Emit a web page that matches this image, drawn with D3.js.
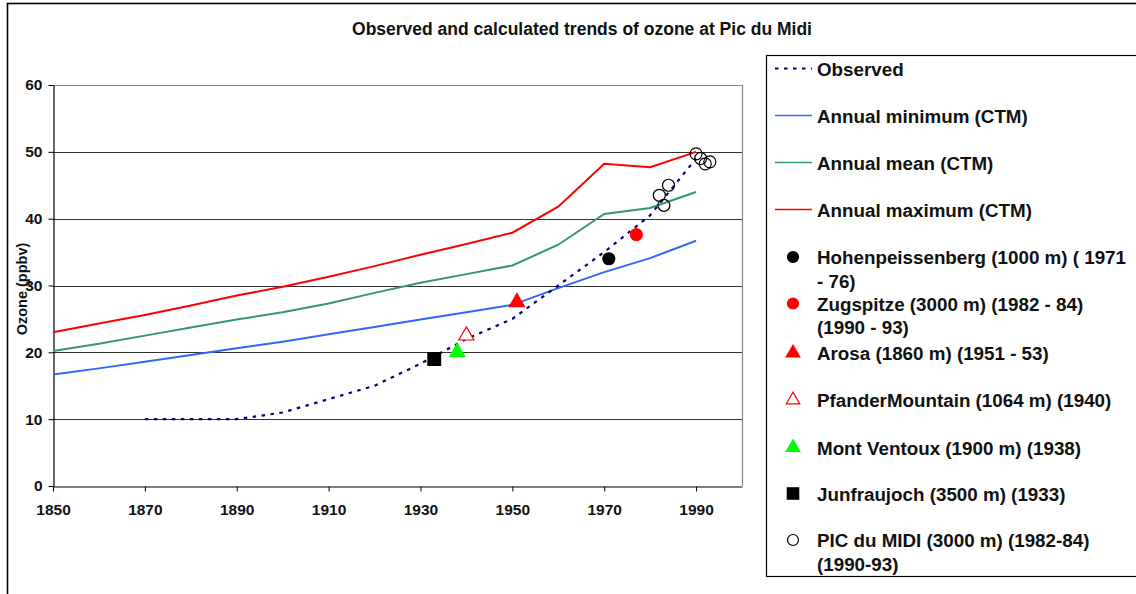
<!DOCTYPE html>
<html>
<head>
<meta charset="utf-8">
<script src="https://cdn.jsdelivr.net/npm/d3@7"></script>
<style>
  html, body { margin: 0; padding: 0; background: #fff; }
  svg { display: block; font-family: "Liberation Sans", Arial, sans-serif; font-weight: bold; }
</style>
</head>
<body>
<svg id="chart" width="1136" height="594"></svg>
<script>
// Model (CTM) curves, one value per decade
const modelYears = [1850, 1860, 1870, 1880, 1890, 1900, 1910, 1920, 1930, 1940, 1950, 1960, 1970, 1980, 1990];
const annualMin  = [16.7, 17.6, 18.6, 19.6, 20.6, 21.6, 22.7, 23.8, 24.9, 26.0, 27.1, 29.6, 32.0, 34.1, 36.7];
const annualMean = [20.2, 21.3, 22.5, 23.7, 24.9, 26.0, 27.3, 28.9, 30.4, 31.7, 33.0, 36.1, 40.7, 41.6, 44.0];
const annualMax  = [23.0, 24.3, 25.6, 27.0, 28.5, 29.8, 31.3, 32.9, 34.6, 36.2, 37.9, 41.8, 48.2, 47.7, 50.0];

// Observed trend
const observedYears = [1870, 1880, 1890, 1900, 1910, 1920, 1930, 1940, 1950, 1960, 1970, 1980, 1990];
const observed      = [10, 10, 10, 11, 13, 15, 18.3, 22, 25, 30, 35, 40.5, 49];

// Station measurements
const hohenYears = [1971];  const hohenValues = [34];
const zugYears   = [1977];  const zugValues   = [37.6];
const arosaYears = [1951];  const arosaValues = [27.5];
const pfanderYears = [1940]; const pfanderValues = [22.5];
const ventouxYears = [1938]; const ventouxValues = [20];
const jungYears  = [1933];  const jungValues  = [19];
const picYears   = [1982, 1983, 1984, 1990, 1991, 1992, 1993];
const picValues  = [43.5, 42, 45, 49.7, 49, 48.2, 48.5];

const xTicks = [1850, 1870, 1890, 1910, 1930, 1950, 1970, 1990];
const yTicks = [0, 10, 20, 30, 40, 50, 60];

const titleText = "Observed and calculated trends of ozone at Pic du Midi";
const yAxisTitle = "Ozone (ppbv)";

const svg = d3.select("#chart");

// outer chart frame
svg.append("rect")
  .attr("x", 7.5).attr("y", 3.5).attr("width", 1200).attr("height", 700)
  .attr("fill", "none").attr("stroke", "#000").attr("stroke-width", 1.6);

const plot = { left: 53, right: 742, top: 85, bottom: 486 };
const x = d3.scaleLinear().domain([1850, 2000]).range([plot.left, plot.right]);
const y = d3.scaleLinear().domain([0, 60]).range([plot.bottom, plot.top]);

// title
svg.append("text")
  .attr("x", 582).attr("y", 35)
  .attr("text-anchor", "middle")
  .attr("font-size", 17.5)
  .attr("fill", "#111")
  .text(titleText);

// horizontal gridlines
svg.append("g").selectAll("line")
  .data(yTicks.filter(d => d > 0))
  .join("line")
  .attr("x1", plot.left).attr("x2", plot.right)
  .attr("y1", d => Math.round(y(d)) + 0.5).attr("y2", d => Math.round(y(d)) + 0.5)
  .attr("stroke", d => d === 60 ? "#888" : "#333")
  .attr("stroke-width", 1);

// right border of plot area
svg.append("line")
  .attr("x1", plot.right + 0.5).attr("x2", plot.right + 0.5)
  .attr("y1", plot.top).attr("y2", plot.bottom)
  .attr("stroke", "#888").attr("stroke-width", 1.2);

// axes
const xAxis = d3.axisBottom(x).tickValues(xTicks).tickFormat(d3.format("d")).tickSize(5).tickSizeOuter(0);
const gx = svg.append("g").attr("transform", `translate(0,${plot.bottom + 0.5})`).call(xAxis);
gx.select(".domain").attr("stroke", "#000").attr("stroke-width", 1.2);
gx.selectAll(".tick line").attr("stroke", "#000");
gx.selectAll(".tick text").attr("font-size", 15.5).attr("font-family", "Liberation Sans, Arial, sans-serif")
  .attr("font-weight", "bold").attr("fill", "#111").attr("dy", null).attr("y", 28);

const yAxis = d3.axisLeft(y).tickValues(yTicks).tickSize(5).tickSizeOuter(0);
const gy = svg.append("g").attr("transform", `translate(${plot.left + 0.5},0)`).call(yAxis);
gy.select(".domain").attr("stroke", "#000").attr("stroke-width", 1.2);
gy.selectAll(".tick line").attr("stroke", "#000");
gy.selectAll(".tick text").attr("font-size", 15.5).attr("font-family", "Liberation Sans, Arial, sans-serif")
  .attr("font-weight", "bold").attr("fill", "#111").attr("x", -11);

// y axis title
svg.append("text")
  .attr("transform", "translate(27,289) rotate(-90)")
  .attr("text-anchor", "middle")
  .attr("font-size", 14.5)
  .attr("fill", "#111")
  .text(yAxisTitle);

// lines
const line = d3.line().x(d => x(d[0])).y(d => y(d[1]));
const zipSeries = (xs, ys) => xs.map((v, i) => [v, ys[i]]);

const series = [
  { values: annualMin, color: "#3366ff" },
  { values: annualMean, color: "#339966" },
  { values: annualMax, color: "#ff0000" }
];
series.forEach(s => {
  svg.append("path")
    .attr("d", line(zipSeries(modelYears, s.values)))
    .attr("fill", "none").attr("stroke", s.color).attr("stroke-width", 2);
});

svg.append("path")
  .attr("d", line(zipSeries(observedYears, observed)))
  .attr("fill", "none").attr("stroke", "#000080").attr("stroke-width", 2.2)
  .attr("stroke-dasharray", "3.5,5.5");

// markers
const tri = d3.symbol().type(d3.symbolTriangle).size(100);
const sq = d3.symbol().type(d3.symbolSquare).size(160);

function circles(xs, ys, fill, stroke, r) {
  svg.append("g").selectAll("circle")
    .data(zipSeries(xs, ys)).join("circle")
    .attr("cx", d => x(d[0])).attr("cy", d => y(d[1])).attr("r", r)
    .attr("fill", fill).attr("stroke", stroke).attr("stroke-width", 1.2);
}
function symbols(xs, ys, gen, fill, stroke) {
  svg.append("g").selectAll("path")
    .data(zipSeries(xs, ys)).join("path")
    .attr("transform", d => `translate(${x(d[0])},${y(d[1])})`)
    .attr("d", gen())
    .attr("fill", fill).attr("stroke", stroke).attr("stroke-width", 1.2);
}

circles(hohenYears, hohenValues, "#000", "#000", 6);
circles(zugYears, zugValues, "#ff0000", "#ff0000", 6);
symbols(arosaYears, arosaValues, tri, "#ff0000", "#ff0000");
symbols(pfanderYears, pfanderValues, tri, "#fff", "#ff0000");
symbols(ventouxYears, ventouxValues, tri, "#00ff00", "#00ff00");
symbols(jungYears, jungValues, sq, "#000", "#000");
circles(picYears, picValues, "none", "#000", 6);

// legend
svg.append("rect")
  .attr("x", 766.5).attr("y", 55.5).attr("width", 420).attr("height", 521)
  .attr("fill", "#fff").attr("stroke", "#000").attr("stroke-width", 1.2);

const legendItems = [
  { kind: "line", color: "#000080", dash: "3.5,5.5", y: 68.5, text: ["Observed"] },
  { kind: "line", color: "#3366ff", y: 115.5, text: ["Annual minimum (CTM)"] },
  { kind: "line", color: "#339966", y: 162.5, text: ["Annual mean (CTM)"] },
  { kind: "line", color: "#ff0000", y: 209.5, text: ["Annual maximum (CTM)"] },
  { kind: "circle", fill: "#000", stroke: "#000", y: 257, text: ["Hohenpeissenberg (1000 m) ( 1971", "- 76)"] },
  { kind: "circle", fill: "#ff0000", stroke: "#ff0000", y: 303.5, text: ["Zugspitze (3000 m) (1982 - 84)", "(1990 - 93)"] },
  { kind: "tri", fill: "#ff0000", stroke: "#ff0000", y: 353, text: ["Arosa (1860 m) (1951 - 53)"] },
  { kind: "tri", fill: "#fff", stroke: "#ff0000", y: 400, text: ["PfanderMountain (1064 m) (1940)"] },
  { kind: "tri", fill: "#00ff00", stroke: "#00ff00", y: 447.5, text: ["Mont Ventoux (1900 m) (1938)"] },
  { kind: "square", fill: "#000", stroke: "#000", y: 493.5, text: ["Junfraujoch (3500 m) (1933)"] },
  { kind: "circle", fill: "#fff", stroke: "#000", y: 540, text: ["PIC du MIDI (3000 m) (1982-84)", "(1990-93)"] }
];

const lg = svg.append("g");
legendItems.forEach(it => {
  if (it.kind === "line") {
    lg.append("line")
      .attr("x1", 775).attr("x2", 812).attr("y1", it.y).attr("y2", it.y)
      .attr("stroke", it.color).attr("stroke-width", it.dash ? 2.2 : 1.6)
      .attr("stroke-dasharray", it.dash || null);
  } else if (it.kind === "circle") {
    lg.append("circle").attr("cx", 793).attr("cy", it.y).attr("r", 5.5)
      .attr("fill", it.fill).attr("stroke", it.stroke).attr("stroke-width", 1.2);
  } else {
    const gen = it.kind === "tri" ? d3.symbol().type(d3.symbolTriangle).size(80)
                                  : d3.symbol().type(d3.symbolSquare).size(130);
    lg.append("path").attr("transform", `translate(793,${it.y})`).attr("d", gen())
      .attr("fill", it.fill).attr("stroke", it.stroke).attr("stroke-width", 1.2);
  }
  it.text.forEach((t, i) => {
    lg.append("text")
      .attr("x", 817).attr("y", it.y + 7 + i * 23.5)
      .attr("font-size", 18.8).attr("fill", "#111")
      .text(t);
  });
});
</script>
</body>
</html>
